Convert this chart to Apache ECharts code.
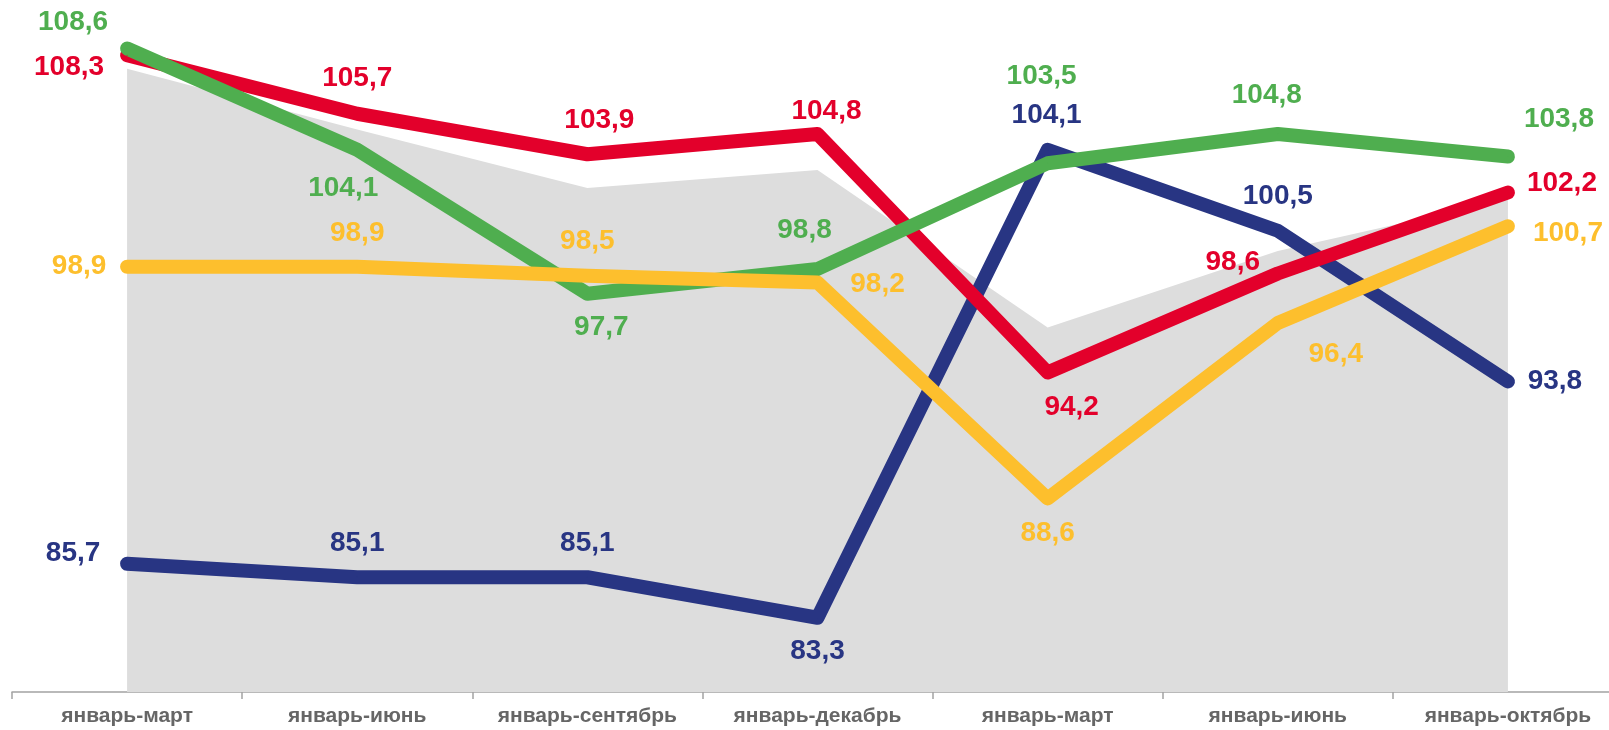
<!DOCTYPE html>
<html>
<head>
<meta charset="utf-8">
<script src="https://cdn.jsdelivr.net/npm/echarts@6/dist/echarts.min.js"></script>
<style>
  html, body { margin: 0; padding: 0; background: #fff; }
  #chart { width: 1609px; height: 730px; }
</style>
</head>
<body>
<div id="chart"></div>
<script>
const categories = ['январь-март', 'январь-июнь', 'январь-сентябрь', 'январь-декабрь', 'январь-март', 'январь-июнь', 'январь-октябрь'];
const greenValues = [108.6, 104.1, 97.7, 98.8, 103.5, 104.8, 103.8];
const redValues = [108.3, 105.7, 103.9, 104.8, 94.2, 98.6, 102.2];
const yellowValues = [98.9, 98.9, 98.5, 98.2, 88.6, 96.4, 100.7];
const blueValues = [85.7, 85.1, 85.1, 83.3, 104.1, 100.5, 93.8];
const grayValues = [107.7, 105.0, 102.4, 103.2, 96.2, 99.6, 101.9];

// where each value label sits relative to its point
const greenOffsets = [[-54, -26], [-14, 39], [14, 34], [-13, -39], [-6, -87], [-11, -39], [51, -37]];
const redOffsets = [[-58, 12], [0, -35], [12, -34], [9, -23], [24, 35], [-45, -11], [54, -9]];
const yellowOffsets = [[-48, 0], [0, -33], [0, -34], [60, 2], [0, 35], [58, 31], [60, 7]];
const blueOffsets = [[-54, -10], [0, -34], [0, -34], [0, 34], [-1, -34], [0, -34], [47, 0]];

function lineSeries(name, values, offsets, color) {
  return {
    name: name,
    type: 'line',
    data: values.map((v, i) => ({
      value: v,
      label: { offset: offsets[i] }
    })),
    symbol: 'circle',
    symbolSize: 1,
    itemStyle: { color: color },
    lineStyle: { color: color, width: 14, cap: 'round', join: 'round' },
    label: {
      show: true,
      position: 'inside',
      color: color,
      fontFamily: 'Liberation Sans, Arial, sans-serif',
      fontWeight: 'bold',
      fontSize: 28,
      formatter: p => String(p.value).replace('.', ',')
    },
    emphasis: { disabled: true },
    animation: false
  };
}

const chart = echarts.init(document.getElementById('chart'));
chart.setOption({
  backgroundColor: '#ffffff',
  grid: { left: 12, right: -14, top: 17, bottom: 38, containLabel: false, outerBoundsMode: 'none' },
  xAxis: {
    type: 'category',
    data: categories,
    boundaryGap: true,
    axisLine: { lineStyle: { color: '#a3a3a3', width: 1.5 } },
    axisTick: { show: true, length: 7, lineStyle: { color: '#a3a3a3', width: 1.5 } },
    axisLabel: {
      color: '#666666',
      fontFamily: 'Liberation Sans, Arial, sans-serif',
      fontWeight: 'bold',
      fontSize: 21,
      margin: 14,
      interval: 0
    }
  },
  yAxis: {
    type: 'value',
    min: 80,
    max: 110,
    show: false
  },
  series: [
    {
      name: 'фон',
      type: 'line',
      data: grayValues,
      symbol: 'none',
      lineStyle: { width: 0 },
      areaStyle: { color: '#dddddd', opacity: 1 },
      z: 1,
      silent: true,
      animation: false
    },
    lineSeries('синий', blueValues, blueOffsets, '#283583'),
    lineSeries('красный', redValues, redOffsets, '#e3002b'),
    lineSeries('зелёный', greenValues, greenOffsets, '#4fae4f'),
    lineSeries('жёлтый', yellowValues, yellowOffsets, '#fdbf2d')
  ]
});
</script>
</body>
</html>
